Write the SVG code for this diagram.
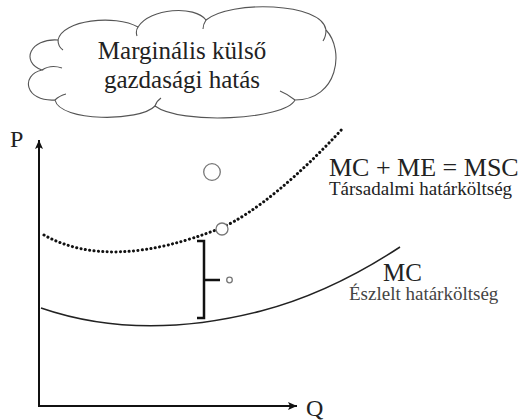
<svg xmlns="http://www.w3.org/2000/svg" width="522" height="420" viewBox="0 0 522 420">
<defs>
<marker id="arr" markerUnits="userSpaceOnUse" markerWidth="12" markerHeight="10" refX="9" refY="4" orient="auto">
<path d="M0,0 L9,4 L0,8 L2,4 Z" fill="#111"/>
</marker>
<style>
text{font-family:'Liberation Serif','DejaVu Serif','Times New Roman',serif;fill:#222}
.cloud{fill:#fff;stroke:#555;stroke-width:1.1}
.tick{fill:none;stroke:#555;stroke-width:1.1}
.axis{fill:none;stroke:#111;stroke-width:2}
.pt{fill:#fff;stroke:#777;stroke-width:1.3}
</style>
</defs>
<rect width="522" height="420" fill="#fff"/>
<g id="cloud">
<path class="cloud" d="M42,70 C20,62 30,38 58,40 C62,20 115,14 138,27 C150,8 195,5 206,20 C230,0 322,2 326,30 C345,50 338,100 295,100 C285,120 180,125 155,106 C140,122 60,122 55,100 C25,102 20,75 42,70 Z"/>
<path class="tick" d="M42,70 C48,66 56,66 62,68 M58,40 C58,44 60,48 63,50 M138,27 C136,30 136,33 137,36 M206,20 C204,23 203,26 203,29 M295,100 C290,96 285,93 280,91 M155,106 C156,103 158,100 161,98 M55,100 C58,97 62,95 66,94 M326,30 C326,34 325,38 323,41"/>
<text x="182" y="59" font-family="Liberation Serif, DejaVu Serif, serif" font-size="25" text-anchor="middle">Marginális külső</text>
<text x="182" y="88" font-family="Liberation Serif, DejaVu Serif, serif" font-size="25" text-anchor="middle">gazdasági hatás</text>
</g>
<g id="axes">
<line class="axis" x1="39" y1="406" x2="39" y2="140" marker-end="url(#arr)"/>
<line class="axis" x1="38" y1="406" x2="297" y2="406" marker-end="url(#arr)"/>
<text x="10" y="147" font-family="Liberation Serif, DejaVu Serif, serif" font-size="24">P</text>
<text x="306" y="416" font-family="Liberation Serif, DejaVu Serif, serif" font-size="24">Q</text>
</g>
<g id="curves">
<path id="msc" d="M44,235 Q110,272 221,228 C255,213 300,175 344,127" fill="none" stroke="#111" stroke-width="3" stroke-linecap="round" stroke-dasharray="0.1 4.3"/>
<path id="mc" d="M41,308 Q140,342 261,311 Q330,293 400,247" fill="none" stroke="#222" stroke-width="1.5"/>
</g>
<g id="labels">
<text x="329" y="176" font-family="Liberation Serif, DejaVu Serif, serif" font-size="26">MC + ME = MSC</text>
<text x="329" y="195" font-family="Liberation Serif, DejaVu Serif, serif" font-size="19">Társadalmi határköltség</text>
<text x="383" y="281" font-family="Liberation Serif, DejaVu Serif, serif" font-size="25">MC</text>
<text x="349" y="300" font-family="Liberation Serif, DejaVu Serif, serif" font-size="19" style="fill:#444">Észlelt határköltség</text>
</g>
<g id="markers">
<circle class="pt" cx="212" cy="172" r="8.3"/>
<circle class="pt" cx="222" cy="229" r="6"/>
<circle class="pt" cx="229.5" cy="280" r="2.8"/>
<path d="M197,241 H204 V318 H197 M204,280 H220" fill="none" stroke="#111" stroke-width="2.5"/>
</g>
</svg>
